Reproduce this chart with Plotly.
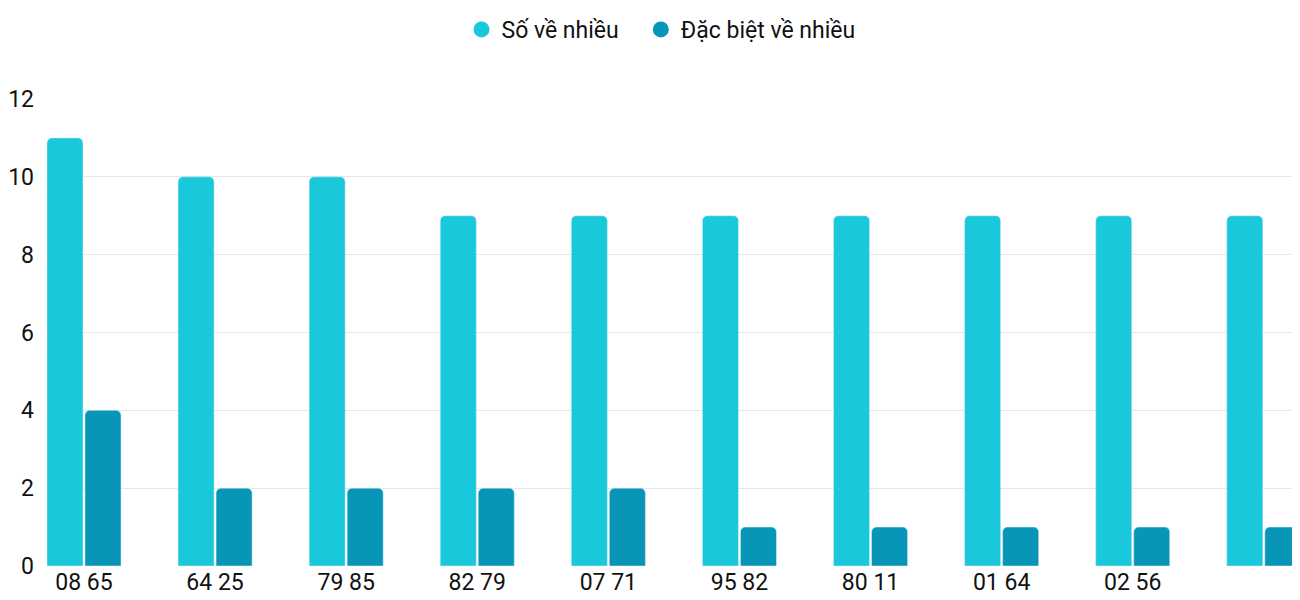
import plotly.graph_objects as go

labels = ["08 65", "64 25", "79 85", "82 79", "07 71", "95 82", "80 11", "01 64", "02 56", "03 49"]
so_ve_nhieu = [11, 10, 10, 9, 9, 9, 9, 9, 9, 9]
dac_biet = [4, 2, 2, 2, 2, 1, 1, 1, 1, 1]

CYAN = "#1ac8db"
DARK = "#0795b8"

idx = list(range(len(labels)))
fig = go.Figure()
fig.add_trace(go.Bar(x=idx, y=so_ve_nhieu, width=0.275, marker_color=CYAN,
                     showlegend=False, hoverinfo="y"))
fig.add_trace(go.Bar(x=[i + 0.29 for i in idx], y=dac_biet, width=0.275,
                     marker_color=DARK, showlegend=False, hoverinfo="y"))
# legend entries with round markers
for name, c in [("Số về nhiều", CYAN), ("Đặc biệt về nhiều", DARK)]:
    fig.add_trace(go.Scatter(x=[None], y=[None], mode="markers", name=name + "   ",
                             marker=dict(color=c, size=28, symbol="circle")))

fig.update_layout(
    width=1284, height=584,
    margin=dict(l=39, r=0, t=69, b=26),
    plot_bgcolor="white", paper_bgcolor="white",
    font=dict(family="Roboto", size=23, color="#111"),
    barmode="overlay", barcornerradius=5,
    legend=dict(orientation="h", x=0.5, xanchor="center", y=1.15, yanchor="middle",
                font=dict(size=23), itemsizing="trace"),
    xaxis=dict(range=[-0.137, 9.36], tickvals=[i + 0.145 for i in idx], ticktext=labels,
               showgrid=False, zeroline=False, showline=False, ticks="", automargin=False),
    yaxis=dict(range=[0, 12], dtick=2, gridcolor="#e6e6e6", zeroline=False,
               ticks="", ticklabelstandoff=12, automargin=False),
)
fig.write_html("out.html")
